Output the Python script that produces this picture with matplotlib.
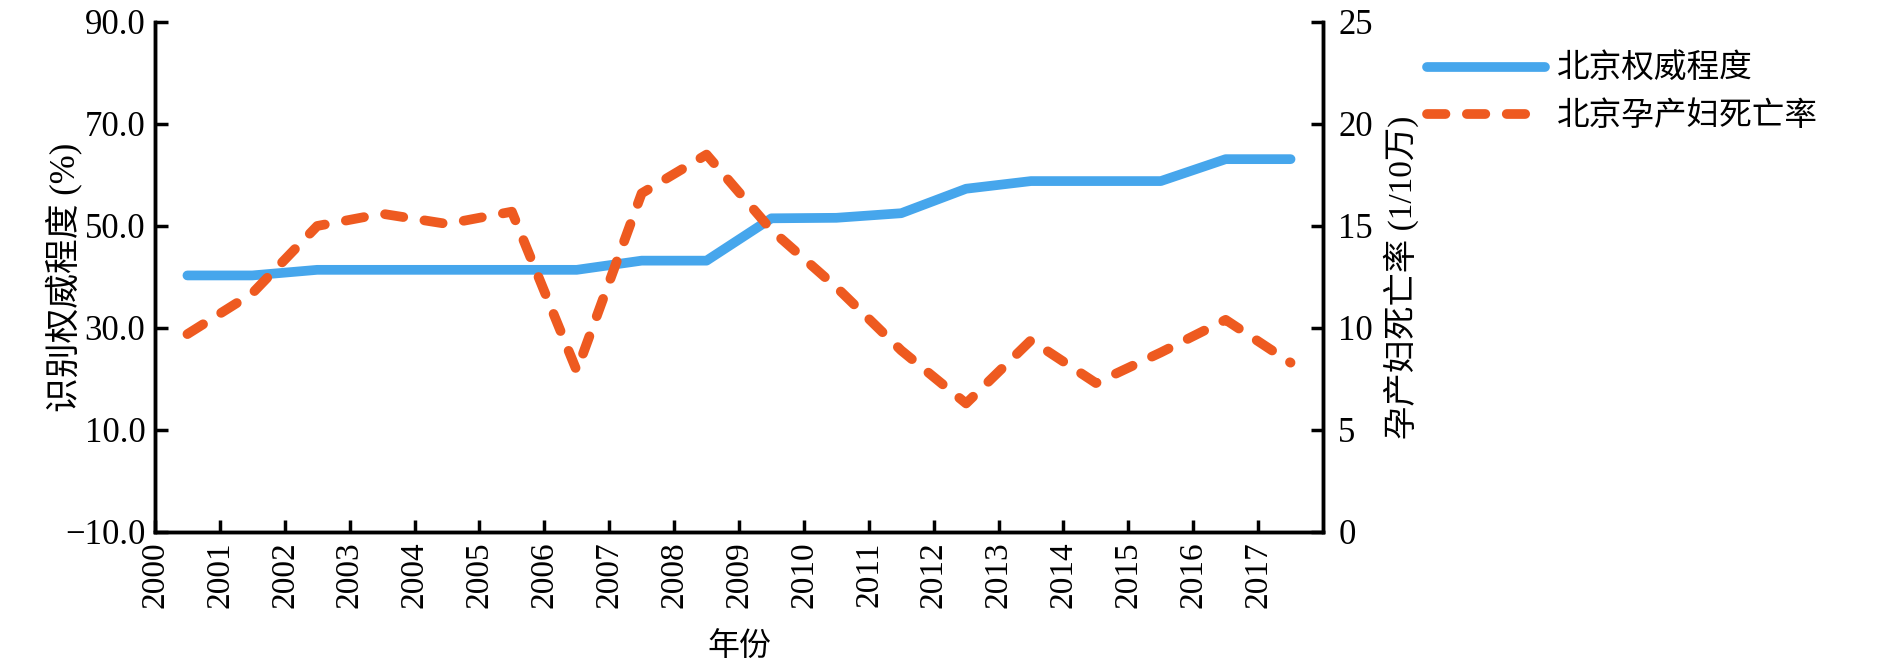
import numpy as np
import matplotlib.pyplot as plt

# data
years = [str(y) for y in range(2000, 2018)]
authority = [40.3, 40.3, 41.4, 41.4, 41.4, 41.4, 41.4, 43.2, 43.2,
             51.5, 51.6, 52.5, 57.3, 58.8, 58.8, 58.8, 63.1, 63.1]
mortality = [9.7, 11.7, 15.0, 15.6, 15.1, 15.7, 7.9, 16.6, 18.5,
             14.8, 12.0, 8.9, 6.3, 9.4, 7.3, 8.8, 10.4, 8.3]
left_ticks = [-10, 10, 30, 50, 70, 90]
right_ticks = [0, 5, 10, 15, 20, 25]

BLUE = '#46a6ec'
ORANGE = '#ee5a20'

plt.rcParams['font.family'] = ['Liberation Serif', 'Noto Sans CJK SC']

fig = plt.figure(figsize=(18.9, 6.65), dpi=100)
ax = fig.add_axes([0.082, 0.2, 0.618, 0.767])
ax2 = ax.twinx()

x = np.arange(len(years)) + 0.5
l1, = ax.plot(x, authority, color=BLUE, lw=7.0, solid_capstyle='round',
              solid_joinstyle='round', label='北京权威程度', zorder=3)
l2, = ax2.plot(x, mortality, color=ORANGE, lw=7.0, ls=(0, (1.9, 2.2)),
               dash_capstyle='round', label='北京孕产妇死亡率', zorder=3)

ax.set_xlim(0, len(years))
ax.set_xticks(np.arange(len(years)))
ax.set_xticklabels(years, rotation=90, fontsize=24)
ax.set_ylim(-10, 90)
ax.set_yticks(left_ticks)
ax.set_yticklabels([f'{v:.1f}'.replace('-', '\u2212') for v in left_ticks],
                   fontsize=25)
ax2.set_ylim(0, 25)
ax2.set_yticks(right_ticks)
ax2.set_yticklabels([str(v) for v in right_ticks], fontsize=25)

for a in (ax, ax2):
    a.tick_params(direction='in', length=9, width=2.5, pad=7)
    a.spines['top'].set_visible(False)
    for s in ('left', 'right', 'bottom'):
        a.spines[s].set_linewidth(2.5)
ax.tick_params(axis='x', pad=7)
ax2.tick_params(axis='y', pad=11)

ax.set_ylabel('识别权威程度 (%)', fontsize=25)
ax.yaxis.set_label_coords(-0.062, 0.5)
ax2.set_ylabel('孕产妇死亡率 (1/10万)', fontsize=24)
ax2.yaxis.set_label_coords(1.052, 0.5)
ax.set_xlabel('年份', fontsize=23)
ax.xaxis.set_label_coords(0.5, -0.198)

fig.legend(handles=[l1, l2], loc='upper left', bbox_to_anchor=(0.7397, 0.963),
           frameon=False, fontsize=23.5, handlelength=3.6, handletextpad=0.37,
           labelspacing=0.5)

fig.savefig('out.png', dpi=100)
